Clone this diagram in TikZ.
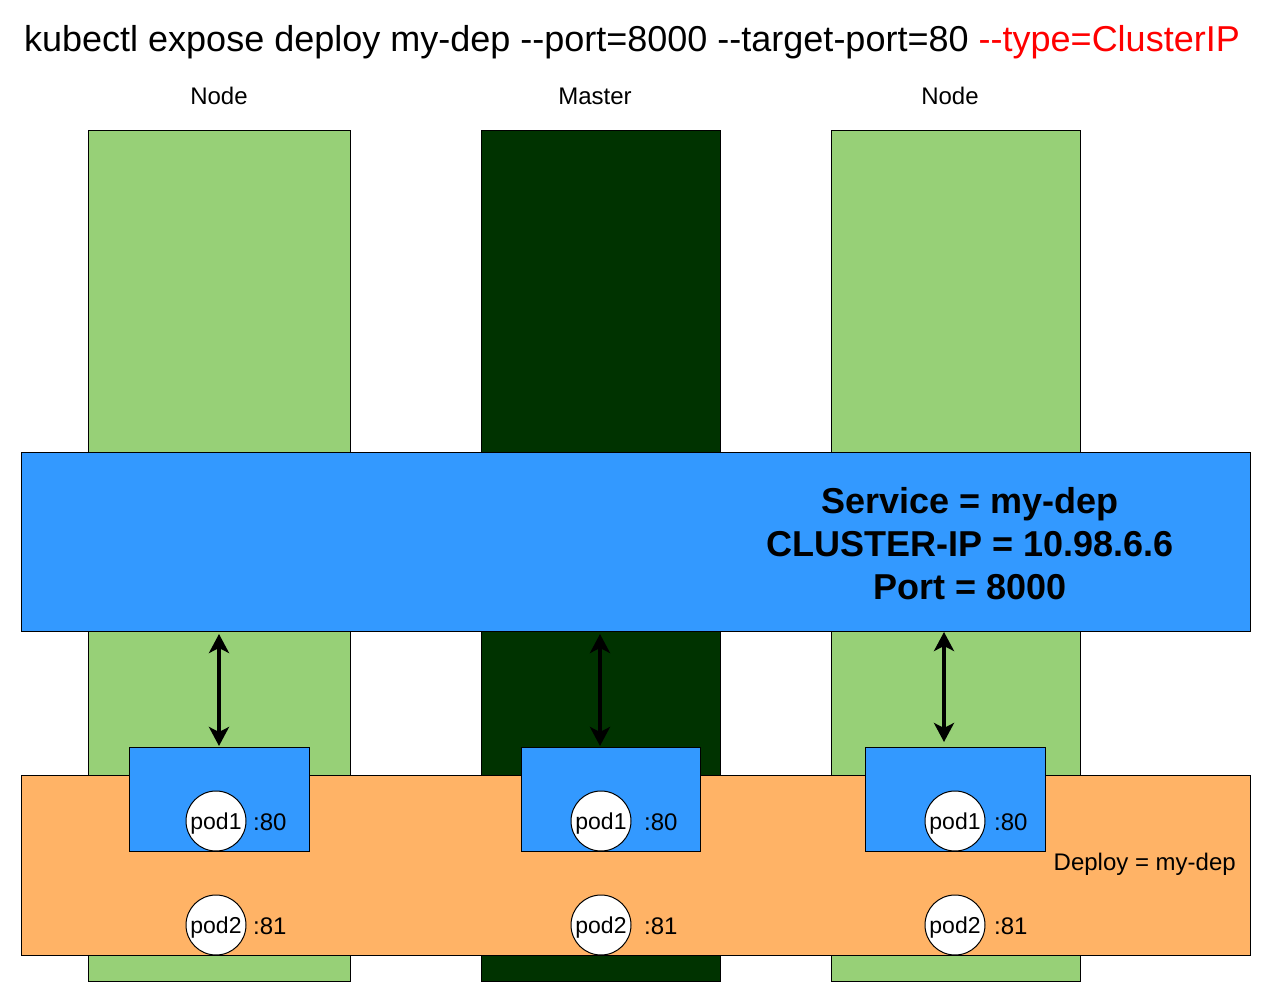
\documentclass[tikz,border=0pt]{standalone}
\usepackage{fontspec}
\setmainfont{Liberation Sans}
\usetikzlibrary{arrows.meta}
\definecolor{nodegreen}{HTML}{97D077}
\definecolor{mastergreen}{HTML}{003300}
\definecolor{svcblue}{HTML}{3399FF}
\definecolor{deporange}{HTML}{FFB366}
\definecolor{titlered}{HTML}{FF0000}
\begin{document}
\begin{tikzpicture}[x=1pt,y=-1pt,
  box/.style={draw=black,line width=1pt,inner sep=0pt,outer sep=0pt,anchor=north west},
  podcirc/.style={circle,draw=black,line width=1pt,fill=white,minimum size=60pt,inner sep=0pt,text height=16pt,text depth=0pt,font=\fontsize{23}{27}\selectfont},
  lbl/.style={font=\fontsize{24}{28}\selectfont,inner sep=0pt},
  arr/.style={line width=3.5pt,{Stealth[length=19pt,width=20pt,inset=5pt]}-{Stealth[length=19pt,width=20pt,inset=5pt]}}
]
\useasboundingbox (0,0) rectangle (1272,1003);
% title
\node[inner sep=0pt,font=\fontsize{36}{40}\selectfont] (title) at (632,42) {kubectl expose deploy my-dep -{}-port=8000 -{}-target-port=80 \textcolor{titlered}{-{}-type=ClusterIP}};
% column labels
\node[lbl] (lblL) at (219,96) {Node};
\node[lbl] (lblM) at (595,96) {Master};
\node[lbl] (lblR) at (950,96) {Node};
% columns
\node[box,fill=nodegreen,minimum width=262pt,minimum height=850pt] (colL) at (88,131) {};
\node[box,fill=mastergreen,minimum width=239pt,minimum height=850pt] (colM) at (481,131) {};
\node[box,fill=nodegreen,minimum width=249pt,minimum height=850pt] (colR) at (831,131) {};
% service band
\node[box,fill=svcblue,minimum width=1229pt,minimum height=179pt] (svc) at (21,452) {};
\node[align=center,font=\fontsize{36}{43}\selectfont\bfseries,inner sep=0pt] (svctext) at (970,544) {Service = my-dep\\CLUSTER-IP = 10.98.6.6\\Port = 8000};
% deploy band
\node[box,fill=deporange,minimum width=1229pt,minimum height=180pt] (dep) at (21,775) {};
\node[lbl,anchor=east] (deptext) at (1236,864) {Deploy = my-dep};
% pod boxes
\node[box,fill=svcblue,minimum width=180pt,minimum height=104pt] (pbL) at (129,747) {};
\node[box,fill=svcblue,minimum width=179pt,minimum height=104pt] (pbM) at (521,747) {};
\node[box,fill=svcblue,minimum width=180pt,minimum height=104pt] (pbR) at (865,747) {};
% pods
\node[podcirc] (p1L) at (216,821) {pod1};
\node[podcirc] (p1M) at (601,821) {pod1};
\node[podcirc] (p1R) at (955,821) {pod1};
\node[podcirc] (p2L) at (216,925) {pod2};
\node[podcirc] (p2M) at (601,925) {pod2};
\node[podcirc] (p2R) at (955,925) {pod2};
\node[lbl,anchor=west] (port1L) at (253,822) {:80};
\node[lbl,anchor=west] (port1M) at (644,822) {:80};
\node[lbl,anchor=west] (port1R) at (994,822) {:80};
\node[lbl,anchor=west] (port2L) at (253,926) {:81};
\node[lbl,anchor=west] (port2M) at (644,926) {:81};
\node[lbl,anchor=west] (port2R) at (994,926) {:81};
% arrows (yshift is in page direction: positive = up)
\coordinate (aLb) at ([yshift=1pt]pbL.north);
\coordinate (aMb) at ([xshift=-10.5pt,yshift=1pt]pbM.north);
\coordinate (aRb) at ([xshift=-11pt,yshift=5pt]pbR.north);
\draw[arr] ([yshift=-3pt]svc.south -| aLb) -- (aLb);
\draw[arr] ([yshift=-3pt]svc.south -| aMb) -- (aMb);
\draw[arr] ([yshift=-1pt]svc.south -| aRb) -- (aRb);
\end{tikzpicture}
\end{document}
